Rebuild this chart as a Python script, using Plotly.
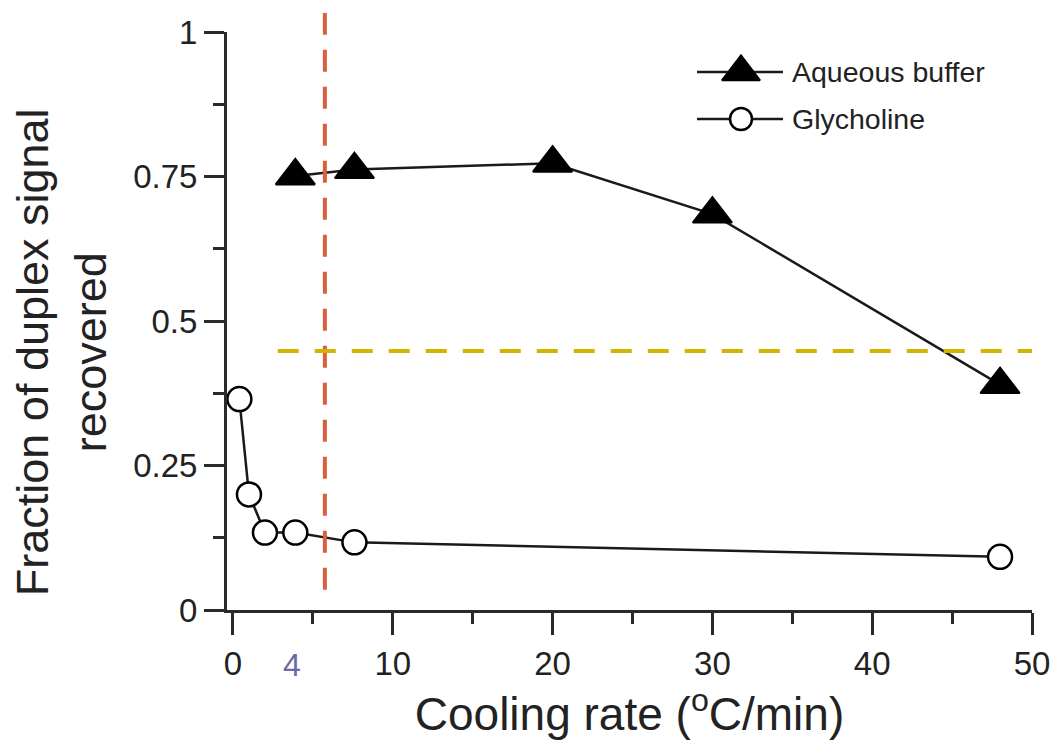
import plotly.graph_objects as go

# Cooling-rate series
aqueous_rate = [3.9, 7.6, 20, 30, 48]
aqueous_frac = [0.751, 0.762, 0.773, 0.685, 0.39]

glycholine_rate = [0.4, 1.0, 2.0, 3.9, 7.6, 48]
glycholine_frac = [0.365, 0.2, 0.134, 0.134, 0.117, 0.092]

# Reference lines
critical_rate = 5.75
threshold_frac = 0.448

x_ticks = [0, 10, 20, 30, 40, 50]
y_ticks = [0, 0.25, 0.5, 0.75, 1]
y_tick_text = ["0", "0.25", "0.5", "0.75", "1"]

series_names = ["Aqueous buffer", "Glycholine"]

FONT = "Arial, Liberation Sans, sans-serif"
INK = "#1a1a1a"

fig = go.Figure()

fig.add_trace(go.Scatter(
    x=aqueous_rate, y=aqueous_frac, mode="lines+markers", name=series_names[0],
    line=dict(color=INK, width=2.5),
    marker=dict(symbol="triangle-up", size=34, color="black",
                line=dict(color="black", width=2)),
    cliponaxis=False, showlegend=False,
))
fig.add_trace(go.Scatter(
    x=glycholine_rate, y=glycholine_frac, mode="lines+markers", name=series_names[1],
    line=dict(color=INK, width=2.5),
    marker=dict(symbol="circle", size=24, color="white",
                line=dict(color="black", width=2.5)),
    cliponaxis=False, showlegend=False,
))

# Legend key drawn on a pixel-scaled overlay axis pair
key_x = [697, 783]
key_mid = 741
key_rows = [72, 119]
fig.add_trace(go.Scatter(x=key_x, y=[key_rows[0]] * 2, mode="lines",
                         line=dict(color=INK, width=2.5), xaxis="x2", yaxis="y2",
                         showlegend=False, hoverinfo="skip"))
fig.add_trace(go.Scatter(x=[key_mid], y=[key_rows[0]], mode="markers",
                         marker=dict(symbol="triangle-up", size=33, color="black",
                                     line=dict(color="black", width=2)),
                         xaxis="x2", yaxis="y2", showlegend=False, hoverinfo="skip"))
fig.add_trace(go.Scatter(x=key_x, y=[key_rows[1]] * 2, mode="lines",
                         line=dict(color=INK, width=2.5), xaxis="x2", yaxis="y2",
                         showlegend=False, hoverinfo="skip"))
fig.add_trace(go.Scatter(x=[key_mid], y=[key_rows[1]], mode="markers",
                         marker=dict(symbol="circle", size=22, color="white",
                                     line=dict(color="black", width=2.5)),
                         xaxis="x2", yaxis="y2", showlegend=False, hoverinfo="skip"))

annotations = []
for name, row in zip(series_names, key_rows):
    annotations.append(dict(
        x=790, y=row, xref="x2", yref="y2", text=name, showarrow=False,
        xanchor="left", yanchor="middle",
        font=dict(family=FONT, size=28.5, color="#222222"),
    ))

# Y-axis title (two lines)
annotations.append(dict(
    x=-0.205, y=0.446, xref="paper", yref="paper",
    text="Fraction of duplex signal<br>recovered", showarrow=False,
    textangle=-90, xanchor="center", yanchor="middle",
    font=dict(family=FONT, size=45, color="#222222"),
))

# Highlighted rate on the x axis
annotations.append(dict(
    x=3.7, y=-0.095, xref="x", yref="paper", text="4", showarrow=False,
    xanchor="center", yanchor="middle",
    font=dict(family=FONT, size=32, color="#6a6aa8"),
))

shapes = [
    dict(type="line", xref="x", yref="paper", x0=critical_rate, x1=critical_rate,
         y0=0.035, y1=1.033, line=dict(color="#d9603f", width=4, dash="22px,15px")),
    dict(type="line", xref="x", yref="y", x0=2.8, x1=50.0,
         y0=threshold_frac, y1=threshold_frac,
         line=dict(color="#d1b300", width=4, dash="21px,16px")),
]

fig.update_layout(
    width=1054, height=741,
    margin=dict(l=227, r=22, t=32, b=131, autoexpand=False),
    paper_bgcolor="white", plot_bgcolor="white",
    font=dict(family=FONT, color="#222222"),
    annotations=annotations, shapes=shapes,
    xaxis=dict(
        range=[-0.375, 50], tickvals=x_ticks, showgrid=False, zeroline=False,
        automargin=False,
        showline=True, linecolor="#2a2a2a", linewidth=3,
        ticks="outside", ticklen=22, tickwidth=3, tickcolor="#2a2a2a",
        tickfont=dict(family=FONT, size=33, color="#222222"),
        minor=dict(tickvals=[5, 15, 25, 35, 45], ticks="outside", ticklen=11,
                   tickwidth=3, tickcolor="#2a2a2a", showgrid=False),
        title=dict(text="Cooling rate (<sup>o</sup>C/min)",
                   font=dict(family=FONT, size=46, color="#222222"), standoff=8),
    ),
    yaxis=dict(
        range=[0, 1], tickvals=y_ticks, ticktext=y_tick_text,
        showgrid=False, zeroline=False, automargin=False,
        showline=True, linecolor="#2a2a2a", linewidth=3,
        ticks="outside", ticklen=20, tickwidth=3, tickcolor="#2a2a2a",
        tickfont=dict(family=FONT, size=33, color="#222222"),
        minor=dict(tickvals=[0.125, 0.375, 0.625, 0.875], ticks="outside",
                   ticklen=11, tickwidth=3, tickcolor="#2a2a2a", showgrid=False),
    ),
    xaxis2=dict(overlaying="x", anchor="y2", range=[227, 1032], visible=False,
                automargin=False),
    yaxis2=dict(overlaying="y", anchor="x2", range=[610, 32], visible=False,
                automargin=False),
)

fig.write_html("out.html")
